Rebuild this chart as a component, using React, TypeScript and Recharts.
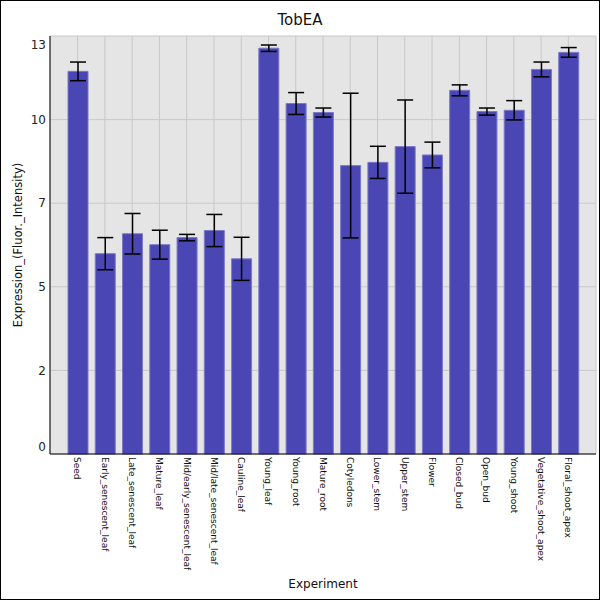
import { BarChart, Bar, XAxis, YAxis, CartesianGrid, ErrorBar } from 'recharts';

const tissues = [
  'Seed', 'Early_senescent_leaf', 'Late_senescent_leaf', 'Mature_leaf',
  'Mid/early_senescent_leaf', 'Mid/late_senescent_leaf', 'Cauline_leaf',
  'Young_leaf', 'Young_root', 'Mature_root', 'Cotyledons', 'Lower_stem',
  'Upper_stem', 'Flower', 'Closed_bud', 'Open_bud', 'Young_shoot',
  'Vegetative_shoot_apex', 'Floral_shoot_apex',
];
const expression = [
  11.9, 6.23, 6.85, 6.51, 6.73, 6.95, 6.07, 12.62, 10.9, 10.62,
  8.97, 9.07, 9.56, 9.3, 11.31, 10.65, 10.69, 11.96, 12.49,
];
const stdErr = [
  0.29, 0.5, 0.63, 0.45, 0.1, 0.5, 0.67, 0.1, 0.34, 0.14,
  2.25, 0.5, 1.45, 0.4, 0.17, 0.11, 0.3, 0.23, 0.15,
];
const yTicks = [0, 2.6, 5.2, 7.8, 10.4, 13];

const data = tissues.map((name, i) => ({ name, value: expression[i], err: stdErr[i] }));

const font = '"DejaVu Sans", sans-serif';

function YTick({ x, y, payload }: any) {
  // first and last labels are nudged inside the plot box
  let dy = 0;
  if (payload.value === 13) dy = 9;
  if (payload.value === 0) dy = -7;
  return (
    <text x={x} y={y + dy} dy="0.35em" textAnchor="end" fontSize={12} fontFamily={font} fill="#222">
      {Math.floor(payload.value)}
    </text>
  );
}

function XTick({ x, y, payload }: any) {
  return (
    <text
      transform={`translate(${x},${y}) rotate(90)`}
      dy="0.35em"
      textAnchor="start"
      fontSize={9}
      fontFamily={font}
      fill="#111"
    >
      {payload.value}
    </text>
  );
}

export default function App() {
  return (
    <div
      style={{
        position: 'absolute', left: 0, top: 0, width: 600, height: 600,
        border: '1px solid #000', boxSizing: 'border-box', background: '#fff',
        fontFamily: font,
      }}
    >
      <div style={{ position: 'absolute', left: 0, width: 598, top: 10, textAlign: 'center', fontSize: 15, color: '#111' }}>
        TobEA
      </div>
      <div
        style={{
          position: 'absolute', left: 17, top: 244, width: 0, height: 0,
        }}
      >
        <div
          style={{
            position: 'absolute', left: 0, top: 0, transform: 'translate(-50%,-50%) rotate(-90deg)',
            fontSize: 11.5, whiteSpace: 'nowrap', color: '#111',
          }}
        >
          Expression_(Fluor._Intensity)
        </div>
      </div>
      <div style={{ position: 'absolute', left: 49, width: 546, top: 576, textAlign: 'center', fontSize: 12, color: '#111' }}>
        Experiment
      </div>
      <BarChart
        width={598}
        height={598}
        data={data}
        margin={{ top: 35, right: 3, bottom: 0, left: 9 }}
      >
        <CartesianGrid fill="#e5e5e5" stroke="#c8c8c8" />
        <XAxis
          dataKey="name"
          interval={0}
          height={145}
          padding={{ left: 14, right: 14 }}
          tickSize={0}
          tickMargin={3}
          tick={<XTick />}
          axisLine={{ stroke: '#000' }}
        />
        <YAxis
          width={40}
          domain={[0, 13]}
          ticks={yTicks}
          tickSize={0}
          tickMargin={4}
          tick={<YTick />}
          axisLine={{ stroke: '#000' }}
        />
        <Bar dataKey="value" fill="#4a46b4" stroke="#7c79c8" strokeWidth={1} barSize={20} isAnimationActive={false}>
          <ErrorBar dataKey="err" width={8} stroke="#000" strokeWidth={1.5} />
        </Bar>
      </BarChart>
    </div>
  );
}
